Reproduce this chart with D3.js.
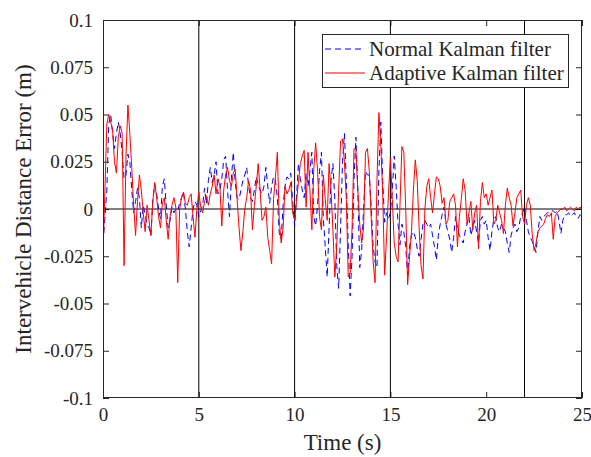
<!DOCTYPE html>
<html><head><meta charset="utf-8">
<script src="https://cdn.jsdelivr.net/npm/d3@7"></script>
<style>body{margin:0;background:#fff} svg text{font-family:"Liberation Serif", serif !important}</style>
</head><body><svg id="c" width="591" height="457"></svg>
<script>
const dt = 0.1;
const xTicks = [0, 5, 10, 15, 20, 25];
const xTickLabels = ["0", "5", "10", "15", "20", "25"];
const yTicks = [-0.1, -0.075, -0.05, -0.025, 0, 0.025, 0.05, 0.075, 0.1];
const yTickLabels = ["-0.1", "-0.075", "-0.05", "-0.025", "0", "0.025", "0.05", "0.075", "0.1"];
const markerLines = [5, 10, 15, 22];
const seriesNames = ["Normal Kalman filter", "Adaptive Kalman filter"];
const xTitle = "Time (s)";
const yTitle = "Intervehicle Distance Error (m)";

const normal = [
-0.018,-0.005,0.010,0.045,0.050,0.040,0.032,0.040,0.046,0.040,
0.030,0.016,0.018,0.029,0.025,0.010,-0.002,0.004,0.011,0.006,
-0.010,0.002,-0.003,-0.008,-0.010,-0.014,0.005,0.013,0.008,0.000,
-0.005,0.012,0.016,0.002,-0.010,-0.006,0.001,-0.002,0.000,-0.001,
0.003,0.006,0.009,0.000,-0.012,-0.020,-0.010,0.000,0.004,0.002,
-0.004,-0.001,0.002,0.011,0.003,0.015,0.022,0.014,0.018,0.025,
0.008,0.010,0.016,0.026,0.028,0.010,-0.004,0.016,0.030,0.014,
0.006,0.005,0.010,0.015,0.018,0.022,0.012,0.006,0.004,0.010,
0.017,0.013,0.010,0.008,0.012,0.022,0.012,0.003,0.012,0.017,
0.015,0.006,-0.013,-0.016,0.002,0.012,0.017,0.016,0.019,0.004,
-0.009,0.006,0.024,0.016,0.010,0.006,0.019,0.012,0.020,0.030,
-0.004,-0.009,0.002,0.020,0.030,-0.005,-0.020,-0.036,-0.010,0.015,
0.024,0.005,-0.030,-0.042,-0.010,0.025,0.040,0.015,-0.019,-0.046,
-0.025,0.015,0.038,0.010,-0.031,-0.022,0.000,0.020,0.018,0.018,
0.000,-0.020,-0.028,-0.031,0.020,0.046,0.015,-0.007,-0.002,-0.005,
-0.002,0.010,0.028,0.012,-0.008,-0.019,-0.008,-0.012,-0.020,-0.035,
-0.020,-0.014,-0.012,-0.015,-0.021,-0.025,-0.016,-0.008,-0.006,-0.008,
-0.010,-0.008,-0.014,-0.020,-0.027,-0.014,-0.008,-0.003,0.001,-0.008,
-0.012,-0.016,-0.023,-0.015,-0.004,-0.010,-0.014,-0.016,-0.018,-0.012,
-0.008,-0.004,-0.014,-0.010,-0.006,-0.012,-0.018,-0.006,-0.004,-0.008,
-0.006,-0.015,-0.022,-0.012,-0.005,-0.004,-0.010,-0.012,-0.008,-0.010,
-0.012,-0.018,-0.023,-0.014,-0.010,-0.008,-0.012,-0.010,-0.004,-0.002,
0.001,-0.006,-0.012,-0.015,-0.017,-0.020,-0.023,-0.012,-0.004,-0.006,
-0.004,-0.003,-0.002,-0.002,-0.001,-0.001,-0.002,-0.001,-0.006,-0.013,
-0.006,-0.003,-0.003,-0.002,-0.004,-0.003,-0.002,-0.004,-0.005,-0.003,
-0.004
];

const adaptive = [
-0.024,0.010,0.045,0.050,0.046,0.042,0.025,0.019,0.038,0.044,
0.040,-0.030,0.028,0.055,0.040,0.022,0.002,-0.014,0.004,0.018,
0.010,-0.002,-0.012,0.002,-0.006,-0.014,0.004,0.014,0.006,-0.004,
-0.010,0.003,0.006,-0.006,-0.016,-0.004,0.002,0.006,0.001,-0.039,
0.000,0.006,0.009,0.003,0.002,0.006,0.008,-0.004,-0.015,0.000,
0.009,0.001,-0.002,0.004,0.007,0.002,0.008,0.012,0.018,0.008,
0.016,0.012,-0.009,0.010,0.018,0.022,0.015,0.012,0.019,0.021,
0.005,-0.010,-0.022,-0.012,0.000,0.006,0.015,0.010,-0.011,0.002,
0.012,0.024,0.010,-0.006,-0.004,0.001,-0.015,-0.022,-0.029,0.005,
0.017,0.030,-0.006,-0.018,-0.010,0.012,0.008,0.010,0.014,-0.002,
-0.006,0.004,0.014,0.024,0.028,0.031,0.001,0.030,0.010,-0.011,
0.021,0.035,0.020,-0.004,-0.011,0.018,0.005,-0.006,0.024,0.010,
-0.011,-0.036,-0.020,0.010,0.036,0.037,0.025,0.005,-0.036,-0.034,
-0.010,0.032,0.031,0.010,-0.008,-0.018,-0.010,0.030,0.032,0.020,
-0.005,-0.028,-0.039,0.015,0.051,0.034,0.007,-0.035,-0.015,0.008,
0.027,0.005,-0.018,-0.025,-0.028,0.002,0.033,0.030,0.000,-0.040,
-0.025,-0.012,0.010,0.026,0.015,-0.010,-0.030,-0.037,0.000,0.012,
0.016,0.006,-0.002,0.008,0.017,0.016,0.012,0.003,0.006,-0.008,
-0.006,0.004,0.006,0.008,0.002,-0.020,-0.004,0.005,0.016,0.010,
-0.008,-0.002,0.004,-0.011,-0.002,0.002,-0.021,0.004,0.014,0.006,
0.008,0.002,0.006,0.010,-0.008,-0.006,0.002,-0.002,-0.006,-0.013,
0.002,0.011,0.006,0.002,-0.009,-0.002,0.006,0.008,0.010,-0.004,
-0.008,0.002,0.006,0.002,-0.013,-0.022,-0.018,-0.012,-0.010,-0.009,
-0.008,-0.005,-0.003,-0.004,-0.002,-0.016,-0.004,-0.002,-0.001,0.000,
0.000,0.001,-0.001,0.000,0.001,0.000,-0.001,0.001,0.000,0.001,
0.000
];

const FONT = '"Liberation Serif"';
const svg = d3.select("#c");
const L = 103, R = 582, T = 20, B = 398;
const xs = d3.scaleLinear().domain([0, 25]).range([L, R]);
const ys = d3.scaleLinear().domain([-0.1, 0.1]).range([B, T]);
const frameColor = "#262626";

svg.append("defs").append("clipPath").attr("id", "clip")
  .append("rect").attr("x", L).attr("y", T).attr("width", R - L).attr("height", B - T);

// axes (inward ticks)
const gx = svg.append("g").attr("transform", `translate(0,${B})`)
  .call(d3.axisBottom(xs).tickValues(xTicks).tickFormat((d, i) => xTickLabels[i]).tickSize(-6).tickPadding(10));
const gxt = svg.append("g").attr("transform", `translate(0,${T})`)
  .call(d3.axisTop(xs).tickValues(xTicks).tickFormat("").tickSize(-6));
const gy = svg.append("g").attr("transform", `translate(${L},0)`)
  .call(d3.axisLeft(ys).tickValues(yTicks).tickFormat((d, i) => yTickLabels[i]).tickSize(-6).tickPadding(10));
const gyr = svg.append("g").attr("transform", `translate(${R},0)`)
  .call(d3.axisRight(ys).tickValues(yTicks).tickFormat("").tickSize(-6));
[gx, gxt, gy, gyr].forEach(g => {
  g.attr("font-family", null).attr("font-size", null);
  g.select(".domain").remove();
  g.selectAll("line").attr("stroke", frameColor).attr("stroke-width", 1);
  g.selectAll("text").style("font-family", FONT).attr("font-size", 19).attr("fill", frameColor);
});

// marker vertical lines & zero line
svg.append("g").selectAll("line").data(markerLines).join("line")
  .attr("x1", d => xs(d)).attr("x2", d => xs(d)).attr("y1", T).attr("y2", B)
  .attr("stroke", "#000").attr("stroke-width", 1);
svg.append("line").attr("x1", L).attr("x2", R).attr("y1", ys(0)).attr("y2", ys(0))
  .attr("stroke", "#000").attr("stroke-width", 1);

const lineGen = d3.line().x((d, i) => xs(i * dt)).y(d => ys(d));
const plot = svg.append("g").attr("clip-path", "url(#clip)");
plot.append("path").datum(normal).attr("d", lineGen).attr("fill", "none")
  .attr("stroke", "#0000ff").attr("stroke-width", 1).attr("stroke-dasharray", "6,4");
plot.append("path").datum(adaptive).attr("d", lineGen).attr("fill", "none")
  .attr("stroke", "#ff0000").attr("stroke-width", 1);

// frame
svg.append("rect").attr("x", L + 0.5).attr("y", T + 0.5).attr("width", R - L - 1).attr("height", B - T - 1)
  .attr("fill", "none").attr("stroke", frameColor).attr("stroke-width", 1);

// titles
svg.append("text").attr("x", (L + R) / 2).attr("y", 450).attr("text-anchor", "middle")
  .style("font-family", FONT).attr("font-size", 23).attr("fill", frameColor).text(xTitle);
svg.append("text").attr("transform", `translate(31,${(T + B) / 2}) rotate(-90)`)
  .attr("text-anchor", "middle").style("font-family", FONT).attr("font-size", 23).attr("fill", frameColor).text(yTitle);

// legend
const lg = svg.append("g");
lg.append("rect").attr("x", 322.5).attr("y", 34.5).attr("width", 246).attr("height", 53)
  .attr("fill", "#fff").attr("stroke", frameColor).attr("stroke-width", 1);
const styles = [{c: "#0000ff", dash: "6,4"}, {c: "#ff0000", dash: null}];
seriesNames.forEach((n, i) => {
  const yy = 49 + i * 24;
  lg.append("line").attr("x1", 325).attr("x2", 365).attr("y1", yy).attr("y2", yy)
    .attr("stroke", styles[i].c).attr("stroke-width", 1).attr("stroke-dasharray", styles[i].dash);
  lg.append("text").attr("x", 369).attr("y", yy + 7).style("font-family", FONT).attr("font-size", 21)
    .attr("fill", frameColor).text(n);
});
</script></body></html>
